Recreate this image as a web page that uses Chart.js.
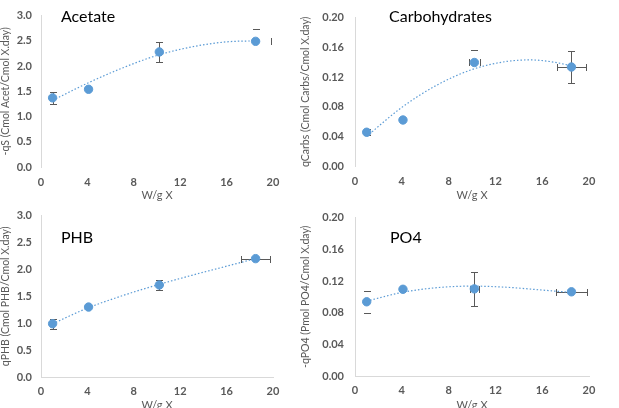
<!DOCTYPE html>
<html>
<head>
<meta charset="utf-8">
<script src="https://cdn.jsdelivr.net/npm/chart.js@4"></script>
<style>
body { margin: 0; background: #fff; width: 619px; height: 408px; overflow: hidden; position: relative; font-family: Lato, sans-serif; }
canvas { position: absolute; }
.lbl { position: absolute; font-size: 16px; line-height: 16px; color: #000; }
</style>
</head>
<body>
<canvas id="acetate" width="300" height="205" style="left:0;top:0"></canvas>
<canvas id="carbs" width="319" height="205" style="left:300px;top:0"></canvas>
<canvas id="phb" width="300" height="212" style="left:0;top:200px"></canvas>
<canvas id="po4" width="319" height="212" style="left:300px;top:200px"></canvas>
<div class="lbl" style="left:61px;top:8px">Acetate</div>
<div class="lbl" style="left:389px;top:8px">Carbohydrates</div>
<div class="lbl" style="left:61px;top:229px">PHB</div>
<div class="lbl" style="left:390px;top:229px">PO4</div>
<script>
// W/g X values shared by all four panels
const wgX = [1, 4.1, 10.2, 18.5];

// error values: a number = symmetric, [minus, plus] = one-sided
const acetateY = [1.37, 1.54, 2.28, 2.49];
const acetateYErr = [0.12, 0, 0.19, [0, 0.25]];
const acetateXErr = [0, 0, 0, [0, 1.3]];
const acetateFitX = [1, 4, 7, 10, 13, 16, 18.5];
const acetateFitY = [1.32, 1.66, 1.96, 2.21, 2.38, 2.48, 2.50];

const carbsY = [0.0455, 0.062, 0.1395, 0.1334];
const carbsYErr = [0.004, 0, [0, 0.0175], 0.0213];
const carbsXErr = [0, 0, 0.45, 1.25];
const carbsFitX = [1, 4, 7, 10, 13, 15, 17, 18.5];
const carbsFitY = [0.040, 0.079, 0.109, 0.130, 0.141, 0.143, 0.140, 0.135];

const phbY = [0.99, 1.30, 1.71, 2.20];
const phbYErr = [0.09, 0, 0.09, 0];
const phbXErr = [0, 0, 0, 1.25];
const phbFitX = [1, 4, 7, 10, 13, 16, 18.5];
const phbFitY = [0.99, 1.28, 1.51, 1.71, 1.89, 2.06, 2.20];

const po4Y = [0.0937, 0.1095, 0.110, 0.1063];
const po4YErr = [0.014, 0, 0.0215, 0];
const po4XErr = [0, 0, 0.4, 1.3];
const po4FitX = [1, 4, 7, 10, 13, 16, 18.5];
const po4FitY = [0.0945, 0.1055, 0.1115, 0.1135, 0.112, 0.1085, 0.1055];

const blue = '#5b9bd5';
const grey = '#595959';

const errorBars = {
    id: 'errorBars',
    beforeDatasetsDraw(chart, args, opts) {
        const { ctx, scales: { x, y } } = chart;
        const pts = chart.data.datasets[1].data;
        const cap = 3.5;
        ctx.save();
        ctx.strokeStyle = grey;
        ctx.lineWidth = 1;
        const seg = (x1, y1, x2, y2) => {
            ctx.beginPath();
            ctx.moveTo(x1, y1);
            ctx.lineTo(x2, y2);
            ctx.stroke();
        };
        const split = e => Array.isArray(e) ? e : [e, e];
        pts.forEach((p, i) => {
            const px = Math.round(x.getPixelForValue(p.x)) + 0.5;
            const py = Math.round(y.getPixelForValue(p.y)) + 0.5;
            const bare = (opts.capsOnly || []).includes(i);
            const [yLo, yHi] = split(opts.yErr[i]);
            const [xLo, xHi] = split(opts.xErr[i]);
            const t = Math.round(y.getPixelForValue(p.y + yHi)) + 0.5;
            const b = Math.round(y.getPixelForValue(p.y - yLo)) + 0.5;
            if (yLo || yHi) {
                if (!bare) seg(px, t, px, b);
                if (yHi) seg(px - cap, t, px + cap, t);
                if (yLo) seg(px - cap, b, px + cap, b);
            }
            const l = Math.round(x.getPixelForValue(p.x - xLo)) + 0.5;
            const r = Math.round(x.getPixelForValue(p.x + xHi)) + 0.5;
            if (xLo || xHi) {
                if (!bare) seg(l, py, r, py);
                if (xLo) seg(l, py - cap, l, py + cap);
                if (xHi) seg(r, py - cap, r, py + cap);
            }
        });
        ctx.restore();
    }
};

function makePanel(id, ys, yErr, xErr, capsOnly, fitX, fitY, yMax, yStep, dec, yTitle, box) {
    new Chart(document.getElementById(id), {
        type: 'scatter',
        data: {
            datasets: [{
                data: fitX.map((v, i) => ({ x: v, y: fitY[i] })),
                showLine: true,
                borderColor: blue,
                borderWidth: 1.2,
                borderDash: [1.5, 2],
                pointRadius: 0,
                tension: 0.4,
                cubicInterpolationMode: 'monotone'
            }, {
                data: wgX.map((v, i) => ({ x: v, y: ys[i] })),
                backgroundColor: blue,
                borderColor: blue,
                pointRadius: 4.2
            }]
        },
        options: {
            responsive: false,
            animation: false,
            layout: { padding: { top: box.top, right: box.right, left: 0, bottom: 0 } },
            plugins: {
                legend: { display: false },
                tooltip: { enabled: false },
                errorBars: { yErr: yErr, xErr: xErr, capsOnly: capsOnly }
            },
            scales: {
                x: {
                    type: 'linear',
                    min: 0,
                    max: 20,
                    grid: { display: false, drawTicks: false },
                    border: { display: box.xLine, color: '#d9d9d9' },
                    ticks: { stepSize: 4, color: grey, padding: box.xPad, font: { family: 'Lato', size: 11, weight: 'bold' } },
                    title: { display: true, text: 'W/g X', color: grey, padding: { top: 0, bottom: box.tPad }, font: { family: 'Lato', size: 11 } },
                    afterFit: s => { s.height = box.xh; }
                },
                y: {
                    min: 0,
                    max: yMax,
                    grid: { display: false, drawTicks: false },
                    border: { display: true, color: '#d9d9d9' },
                    ticks: { stepSize: yStep, color: grey, padding: box.yPad, callback: v => v.toFixed(dec), font: { family: 'Lato', size: 11, weight: 'bold' } },
                    title: { display: true, text: yTitle, color: grey, padding: 0, font: { family: 'Lato', size: 10.5, lineHeight: 1 } },
                    afterFit: s => { s.width = box.yw; }
                }
            }
        },
        plugins: [errorBars]
    });
}

makePanel('acetate', acetateY, acetateYErr, acetateXErr, [3], acetateFitX, acetateFitY, 3, 0.5, 1,
    '-qS (Cmol Acet/Cmol X.day)', { top: 3, right: 27, yw: 41, xh: 38, xLine: false, xPad: 9, yPad: 9, tPad: 3 });
makePanel('carbs', carbsY, carbsYErr, carbsXErr, [2], carbsFitX, carbsFitY, 0.2, 0.04, 2,
    'qCarbs (Cmol Carbs/Cmol X.day)', { top: 2, right: 30, yw: 55, xh: 39, xLine: false, xPad: 9, yPad: 11, tPad: 3 });
makePanel('phb', phbY, phbYErr, phbXErr, [], phbFitX, phbFitY, 3, 0.5, 1,
    'qPHB (Cmol PHB/Cmol X.day)', { top: 11, right: 27, yw: 41, xh: 35, xLine: true, xPad: 8, yPad: 9, tPad: 0 });
makePanel('po4', po4Y, po4YErr, po4XErr, [0], po4FitX, po4FitY, 0.2, 0.04, 2,
    '-qPO4 (Pmol PO4/Cmol X.day)', { top: 11, right: 30, yw: 55, xh: 36, xLine: true, xPad: 8, yPad: 11, tPad: 0 });
</script>
</body>
</html>
